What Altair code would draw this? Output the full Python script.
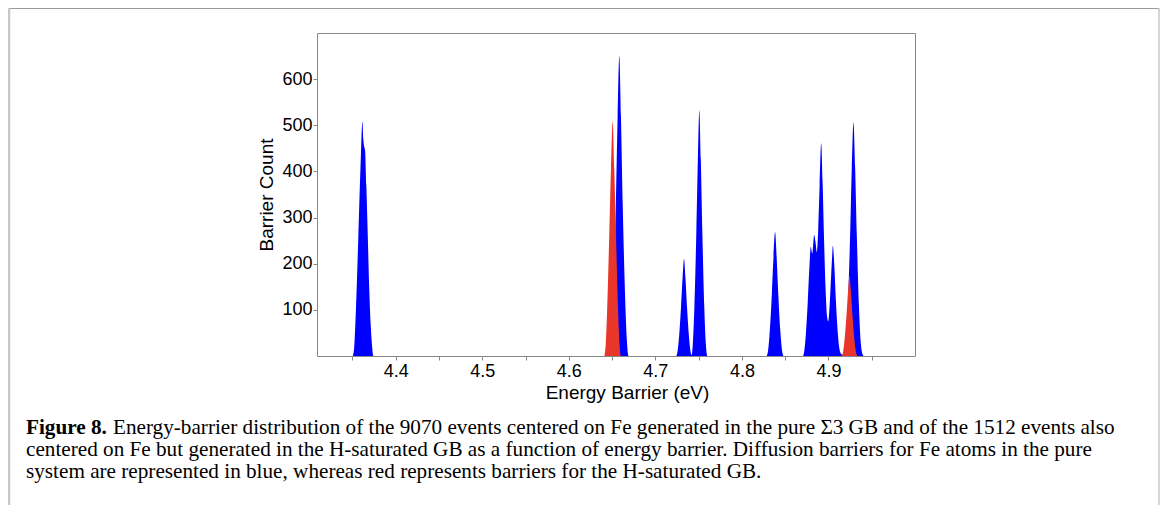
import altair as alt
import pandas as pd

# ---- data ----
blue_energy = [
    4.3505, 4.3522, 4.3540, 4.3567, 4.3592, 4.3615, 4.3625, 4.3634, 4.3646, 4.3660, 4.3676, 4.3693, 4.3710, 4.3725, 4.3742,
    4.6475, 4.6495, 4.6516, 4.6543, 4.6564, 4.6583, 4.6602, 4.6623, 4.6650, 4.6671, 4.6691,
    4.7238, 4.7256, 4.7274, 4.7296, 4.7314, 4.7331, 4.7348, 4.7366, 4.7388, 4.7406, 4.7419,
    4.7433, 4.7451, 4.7473, 4.7491, 4.7508, 4.7525, 4.7543, 4.7565, 4.7583, 4.7601,
    4.8284, 4.8303, 4.8322, 4.8346, 4.8365, 4.8383, 4.8401, 4.8420, 4.8444, 4.8463, 4.8482,
    4.8705, 4.8721, 4.8739, 4.8761, 4.8779, 4.8796, 4.8812, 4.8835, 4.8852, 4.8866, 4.8882,
    4.8898, 4.8916, 4.8932, 4.8948, 4.8966, 4.8984, 4.8998, 4.9014, 4.9031, 4.9041, 4.9051,
    4.9068, 4.9086, 4.9108, 4.9127, 4.9148, 4.9168, 4.9186, 4.9203, 4.9225, 4.9250, 4.9270,
    4.9289, 4.9308, 4.9328, 4.9352, 4.9373, 4.9392, 4.9405,
]
blue_count = [
    0, 25, 102, 254, 406, 508, 470, 455, 445, 370, 266, 150, 70, 25, 0,
    0, 33, 130, 325, 520, 650, 520, 325, 130, 33, 0,
    0, 10, 42, 105, 168, 210, 168, 105, 42, 10, 2,
    27, 106, 266, 426, 532, 426, 266, 106, 27, 0,
    0, 13, 54, 135, 215, 269, 215, 135, 54, 13, 0,
    0, 12, 47, 118, 190, 237, 222, 262, 245, 225, 275,
    370, 461, 380, 260, 150, 85, 75, 110, 175, 210, 239,
    195, 120, 50, 15, 4, 3, 10, 30, 110, 260, 410,
    506, 410, 260, 110, 30, 5, 0,
]
red_energy = [
    4.6411, 4.6426, 4.6443, 4.6466, 4.6487, 4.6506, 4.6525, 4.6546, 4.6569, 4.6586, 4.6601,
    4.9153, 4.9169, 4.9186, 4.9208, 4.9226, 4.9243, 4.9260, 4.9278, 4.9300, 4.9317, 4.9333,
]
red_count = [
    0, 25, 102, 254, 406, 508, 406, 254, 102, 25, 0,
    0, 9, 35, 87, 139, 174, 139, 87, 35, 9, 0,
]

x_tick_values = [4.35, 4.40, 4.45, 4.50, 4.55, 4.60, 4.65, 4.70, 4.75, 4.80, 4.85, 4.90, 4.95]
y_tick_values = [100, 200, 300, 400, 500, 600]

x_title = "Energy Barrier (eV)"
y_title = "Barrier Count"
caption_bold = "Figure 8."
caption_line1 = "Energy-barrier distribution of the 9070 events centered on Fe generated in the pure \u03a33 GB and of the 1512 events also"
caption_line2 = "centered on Fe but generated in the H-saturated GB as a function of energy barrier. Diffusion barriers for Fe atoms in the pure"
caption_line3 = "system are represented in blue, whereas red represents barriers for the H-saturated GB."

BLUE = "#0000ff"
RED = "#e8372a"
SANS = "Liberation Sans"
SERIF = "Liberation Serif"
CAP_SIZE = 21.2

blue_df = pd.DataFrame({"energy": blue_energy, "count": blue_count})
red_df = pd.DataFrame({"energy": red_energy, "count": red_count})

x_scale = alt.Scale(domain=[4.309, 5.0], nice=False, zero=False)
y_scale = alt.Scale(domain=[0, 700], nice=False)

x_axis = alt.Axis(
    values=x_tick_values,
    labelExpr="round(datum.value * 100) % 10 == 0 ? format(datum.value, '.1f') : ''",
    title=x_title, titleFont=SANS, titleFontSize=19, titleFontWeight="normal", titleColor="black",
    titleX=310, titleY=42, titleBaseline="alphabetic", titleAlign="center",
    labelFont=SANS, labelFontSize=18, labelColor="black", labelPadding=2,
    tickSize=4, tickColor="#888888", domain=False, grid=False,
    labelOverlap=False, labelFlush=False,
)
y_axis = alt.Axis(
    values=y_tick_values,
    title=y_title, titleFont=SANS, titleFontSize=19, titleFontWeight="normal", titleColor="black",
    titleX=-45, titleY=161.5, titleBaseline="alphabetic", titleAlign="center", titleAngle=270,
    labelFont=SANS, labelFontSize=18, labelColor="black", labelPadding=1,
    tickSize=4, tickColor="#888888", domain=False, grid=False,
)

blue = alt.Chart(blue_df).mark_area(interpolate="monotone", color=BLUE, opacity=1).encode(
    x=alt.X("energy:Q", scale=x_scale, axis=x_axis),
    y=alt.Y("count:Q", scale=y_scale, axis=y_axis),
)
red = alt.Chart(red_df).mark_area(interpolate="monotone", color=RED, opacity=1).encode(
    x=alt.X("energy:Q", scale=x_scale),
    y=alt.Y("count:Q", scale=y_scale),
)

one = alt.Data(values=[{"k": 1}])

border_top = alt.Chart(one).mark_rule(color="#9a9a9a", strokeWidth=1).encode(
    x=alt.value(-308), x2=alt.value(842), y=alt.value(-24.5)
)
border_left = alt.Chart(one).mark_rule(color="#c8c8c8", strokeWidth=2.5).encode(
    x=alt.value(-308), y=alt.value(-25), y2=alt.value(480)
)
border_right = alt.Chart(one).mark_rule(color="#c8c8c8", strokeWidth=1.5).encode(
    x=alt.value(842), y=alt.value(-25), y2=alt.value(480)
)


def text_layer(txt, x, y, bold=False):
    return alt.Chart(alt.Data(values=[{"t": txt}])).mark_text(
        align="left", baseline="alphabetic", font=SERIF, fontSize=CAP_SIZE,
        fontWeight="bold" if bold else "normal", color="black",
    ).encode(text="t:N", x=alt.value(x), y=alt.value(y))


cap0 = text_layer(caption_bold, -291, 401, bold=True)
cap1 = text_layer(caption_line1, -204, 401)
cap2 = text_layer(caption_line2, -291, 423)
cap3 = text_layer(caption_line3, -291, 445)

chart = alt.layer(
    border_top, border_left, border_right, blue, red, cap0, cap1, cap2, cap3
).properties(
    width=598, height=323,
    padding={"left": 309, "top": 25, "right": 245, "bottom": 149},
    autosize=alt.AutoSizeParams(type="none"),
    background="white",
).configure_view(stroke="#888888", strokeWidth=1)

chart.save("out.html", embed_options={"renderer": "svg", "actions": False})
